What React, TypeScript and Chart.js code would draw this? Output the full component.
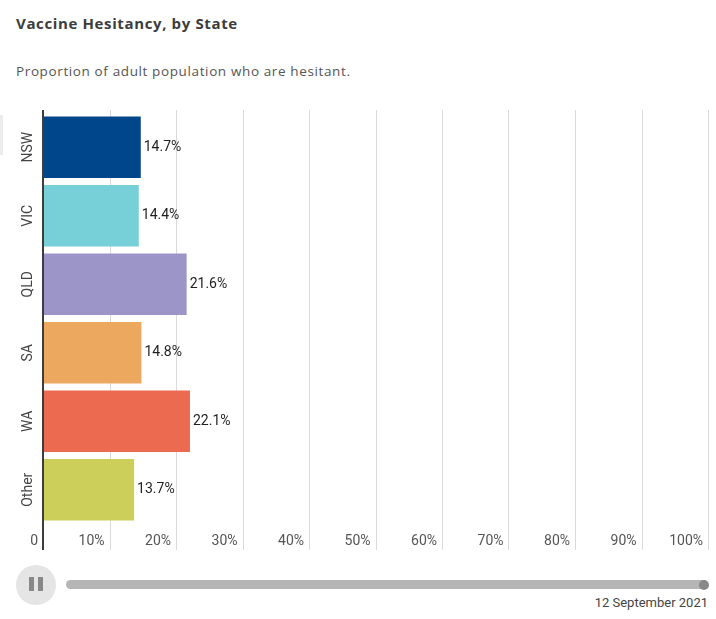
import React, { useEffect, useRef } from "react";
import { Chart, registerables } from "chart.js";

Chart.register(...registerables);

const categories = ["NSW", "VIC", "QLD", "SA", "WA", "Other"];
const hesitancy = [14.7, 14.4, 21.6, 14.8, 22.1, 13.7];
const barColors = ["#00468b", "#77cfd8", "#9b95c8", "#eca85e", "#ec6a50", "#ccd05a"];
const xTicks = [0, 10, 20, 30, 40, 50, 60, 70, 80, 90, 100];
const xTickLabels = ["0", "10%", "20%", "30%", "40%", "50%", "60%", "70%", "80%", "90%", "100%"];
const titleText = "Vaccine Hesitancy, by State";
const subtitleText = "Proportion of adult population who are hesitant.";
const dateLabel = "12 September 2021";

const overlayPlugin = {
  id: "overlay",
  beforeDatasetsDraw(chart: any) {
    const { ctx, chartArea, scales } = chart;
    const xs = scales.x;
    ctx.save();
    ctx.strokeStyle = "#dadada";
    ctx.lineWidth = 1;
    xTicks.forEach((v) => {
      if (v === 0) return;
      const px = Math.round(xs.getPixelForValue(v)) + 0.5;
      ctx.beginPath();
      ctx.moveTo(px, chartArea.top - 3);
      ctx.lineTo(px, chartArea.bottom + 26);
      ctx.stroke();
    });
    ctx.restore();
  },
  afterDatasetsDraw(chart: any) {
    const { ctx, chartArea, scales } = chart;
    const xs = scales.x;
    const ys = scales.y;
    ctx.save();
    // axis line
    const p0 = xs.getPixelForValue(0);
    ctx.fillStyle = "#3d3d3d";
    ctx.fillRect(Math.round(p0) - 1, chartArea.top - 3, 2, chartArea.bottom + 26 - (chartArea.top - 3));

    // bar value labels
    ctx.font = "14px Roboto";
    ctx.fillStyle = "#1e1e1e";
    ctx.textAlign = "left";
    ctx.textBaseline = "middle";
    const meta = chart.getDatasetMeta(0);
    meta.data.forEach((bar: any, i: number) => {
      ctx.fillText(hesitancy[i].toFixed(1) + "%", bar.x + 3, bar.y);
    });

    // x tick labels
    ctx.fillStyle = "#555555";
    ctx.textAlign = "right";
    xTicks.forEach((v, i) => {
      const px = xs.getPixelForValue(v);
      ctx.fillText(xTickLabels[i], px - 5, chartArea.bottom + 17.5);
    });

    // y category labels (rotated)
    ctx.fillStyle = "#444444";
    ctx.textAlign = "center";
    categories.forEach((c, i) => {
      const py = ys.getPixelForTick(i);
      ctx.save();
      ctx.translate(28.5, py);
      ctx.rotate(-Math.PI / 2);
      ctx.fillText(c, 0, 0);
      ctx.restore();
    });
    ctx.restore();
  },
};

function BarChart() {
  const ref = useRef<HTMLCanvasElement | null>(null);
  useEffect(() => {
    if (!ref.current) return;
    const chart = new Chart(ref.current, {
      type: "bar",
      data: {
        labels: categories,
        datasets: [
          {
            data: hesitancy,
            backgroundColor: barColors,
            borderWidth: 0,
            barPercentage: 0.9,
            categoryPercentage: 1,
          },
        ],
      },
      options: {
        indexAxis: "y",
        animation: false,
        responsive: true,
        maintainAspectRatio: false,
        layout: { padding: { top: 23, right: 8, left: 0, bottom: 0 } },
        plugins: {
          legend: { display: false },
          tooltip: { enabled: false },
          title: { display: false },
        },
        scales: {
          x: {
            type: "linear",
            min: 0,
            max: 100,
            ticks: { display: false, stepSize: 10 },
            grid: { display: false, drawTicks: false },
            border: { display: false },
            afterFit: (s: any) => {
              s.height = 36;
            },
          },
          y: {
            type: "category",
            ticks: { display: false },
            grid: { display: false, drawTicks: false },
            border: { display: false },
            afterFit: (s: any) => {
              s.width = 43;
            },
          },
        },
      },
      plugins: [overlayPlugin],
    } as any);
    return () => chart.destroy();
  }, []);
  return (
    <div style={{ position: "absolute", left: 0, top: 90, width: 716, height: 470 }}>
      <canvas ref={ref} />
    </div>
  );
}

export default function App() {
  return (
    <div
      style={{
        position: "absolute",
        left: 0,
        top: 0,
        width: 716,
        height: 619,
        background: "#ffffff",
        overflow: "hidden",
      }}
    >
      <div
        style={{
          position: "absolute",
          left: 16,
          top: 15.5,
          fontFamily: "'Open Sans', sans-serif",
          fontWeight: 700,
          fontSize: 15,
          lineHeight: "15px",
          letterSpacing: "0.63px",
          color: "#3c3c3c",
          whiteSpace: "nowrap",
        }}
      >
        {titleText}
      </div>
      <div
        style={{
          position: "absolute",
          left: 16,
          top: 65,
          fontFamily: "'Open Sans', sans-serif",
          fontSize: 13.5,
          lineHeight: "13.5px",
          letterSpacing: "0.62px",
          color: "#555555",
          whiteSpace: "nowrap",
        }}
      >
        {subtitleText}
      </div>
      <div
        style={{
          position: "absolute",
          left: 0,
          top: 115,
          width: 3,
          height: 40,
          background: "#ececec",
        }}
      />
      <BarChart />
      {/* play/pause control */}
      <div
        style={{
          position: "absolute",
          left: 16,
          top: 565,
          width: 40,
          height: 40,
          borderRadius: "50%",
          background: "#e5e5e5",
        }}
      >
        <div style={{ position: "absolute", left: 13, top: 12, width: 5, height: 14, background: "#888888" }} />
        <div style={{ position: "absolute", left: 22, top: 12, width: 5, height: 14, background: "#888888" }} />
      </div>
      <div
        style={{
          position: "absolute",
          left: 66,
          top: 580,
          width: 642,
          height: 9,
          borderRadius: 5,
          background: "#b5b5b5",
        }}
      />
      <div
        style={{
          position: "absolute",
          left: 699,
          top: 579.5,
          width: 10,
          height: 10,
          borderRadius: "50%",
          background: "#888888",
        }}
      />
      <div
        style={{
          position: "absolute",
          right: 8,
          top: 596,
          fontFamily: "Roboto, sans-serif",
          fontSize: 13,
          lineHeight: "14px",
          color: "#444444",
          whiteSpace: "nowrap",
        }}
      >
        {dateLabel}
      </div>
    </div>
  );
}
